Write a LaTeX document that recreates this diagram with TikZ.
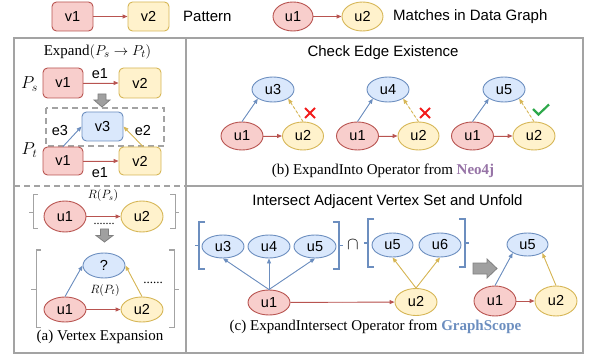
\documentclass[tikz,border=0pt]{standalone}
\usepackage{fontspec}
\setmainfont{Liberation Serif}
\newfontfamily\hel{Liberation Sans}
\usetikzlibrary{shapes.geometric,arrows.meta}
\definecolor{rf}{HTML}{F8CECC}\definecolor{rd}{HTML}{B85450}
\definecolor{yf}{HTML}{FFF2CC}\definecolor{yd}{HTML}{D6B656}
\definecolor{bf}{HTML}{DAE8FC}\definecolor{bd}{HTML}{6C8EBF}
\definecolor{frc}{HTML}{A3A3A3}
\definecolor{garf}{HTML}{A0A0A0}\definecolor{gard}{HTML}{808080}
\definecolor{neo}{HTML}{9673A6}\definecolor{gsc}{HTML}{6C8EBF}
\definecolor{okg}{HTML}{2DA84A}\definecolor{xr}{HTML}{F21B1B}
\tikzset{
 nbase/.style={font=\hel\fontsize{14.5}{15}\selectfont, line width=0.9pt, inner sep=0pt},
 rbox/.style={nbase, draw=rd, fill=rf, rounded corners=4.5pt, minimum width=40pt, minimum height=29pt},
 ybox/.style={rbox, draw=yd, fill=yf},
 bbox/.style={rbox, draw=bd, fill=bf},
 rell/.style={nbase, ellipse, draw=rd, fill=rf, minimum width=42pt, minimum height=28pt},
 yell/.style={rell, draw=yd, fill=yf},
 bell/.style={rell, draw=bd, fill=bf},
 arrtip/.style={-{Triangle[length=5pt,width=4pt]}},
 ra/.style={arrtip, draw=rd, fill=rd, line width=0.9pt},
 ya/.style={arrtip, draw=yd, fill=yd, line width=0.9pt},
 ba/.style={arrtip, draw=bd, fill=bd, line width=0.9pt},
 yda/.style={ya, dash pattern=on 3pt off 2pt},
 framel/.style={draw=frc, line width=1.4pt},
 longdash/.style={dash pattern=on 6pt off 4pt},
 lbl/.style={font=\hel\fontsize{15}{15}\selectfont, inner sep=0pt},
 elbl/.style={font=\hel\fontsize{14.5}{15}\selectfont, inner sep=0pt},
 captxt/.style={font=\fontsize{15}{15}\selectfont, inner sep=0pt},
 garrow/.style={fill=garf, draw=gard, line width=0.8pt},
 brk/.style={draw=frc, line width=1pt},
 bbrk/.style={draw=bd, line width=1.5pt},
 dotsty/.style={font=\fontsize{12}{12}\selectfont, inner sep=0pt},
}
\begin{document}
\begin{tikzpicture}[x=1pt,y=-1pt]
\useasboundingbox (0,0) rectangle (589,358);
% legend
\node[rbox,minimum width=41pt] (lv1) at (72.5,16.5) {v1};
\node[ybox,minimum width=41pt] (lv2) at (148.5,16.5) {v2};
\node[lbl,anchor=west] (lp) at (183,16.5) {Pattern};
\node[rell,minimum width=40pt,minimum height=29pt] (lu1) at (293,16.5) {u1};
\node[yell,minimum width=41pt,minimum height=29pt] (lu2) at (362.5,16.5) {u2};
\node[lbl,anchor=west] (lm) at (393,16.5) {Matches in Data Graph};
\draw[ra] (lv1) -- (lv2);
\draw[ra] (lu1) -- (lu2);
% frames
\draw[framel] (14,38) rectangle (583,353);
\draw[framel] (186,38) -- (186,353);
\draw[framel] (186,186) -- (583,186);
\draw[framel,longdash] (14,186) -- (186,186);
% panel a top
\node[captxt] (ex) at (97.5,52) {Expand$(P_s \rightarrow P_t)$};
\node[font=\fontsize{17}{17}\selectfont,inner sep=0pt] (ps) at (29.5,84) {$P_s$};
\node[rbox,minimum height=30pt] (av1) at (63,83) {v1};
\node[ybox,minimum width=42pt,minimum height=30pt] (av2) at (140,83) {v2};
\draw[ra] (av1) -- (av2);
\node[elbl] (ae1) at (100,74) {e1};
\draw[garrow] (98,94) -- (106,94) -- (106,100) -- (110,100) -- (102,107) -- (94,100) -- (98,100) -- cycle;
\draw[framel,longdash] (46,108) rectangle (164,146);
\node[bbox,minimum width=41pt] (av3) at (102.5,126.5) {v3};
\node[elbl] (ae3) at (60,131) {e3};
\node[elbl] (ae2) at (143,131) {e2};
\node[font=\fontsize{17}{17}\selectfont,inner sep=0pt] (pt) at (29.5,150) {$P_t$};
\node[rbox,minimum height=28pt] (bv1) at (63,161) {v1};
\node[ybox,minimum width=42pt,minimum height=28pt] (bv2) at (140,161) {v2};
\draw[ra] (bv1) -- (bv2);
\node[elbl] (be1) at (100,173) {e1};
\draw[ba] (bv1.north) -- (av3.west);
\draw[ya] ([xshift=3pt]bv2.north) -- (av3.east);
% panel a bottom
\node[font=\fontsize{12}{12}\selectfont,inner sep=0pt] (rps) at (103,196) {$R(P_s)$};
\draw[brk] (38,195) -- (33,195) -- (33,229) -- (38,229);
\draw[brk] (33,213) -- (29,213);
\draw[brk] (170,195) -- (175,195) -- (175,229) -- (170,229);
\draw[brk] (175,213) -- (179,213);
\node[rell,minimum height=31pt] (tu1) at (65,216.5) {u1};
\node[yell,minimum height=31pt] (tu2) at (142,216.5) {u2};
\draw[ra] (tu1) -- (tu2);
\node[dotsty] (d1) at (104,223.5) {.......};
\draw[garrow] (100.5,229) -- (108.5,229) -- (108.5,235.5) -- (113,235.5) -- (104.5,242) -- (96,235.5) -- (100.5,235.5) -- cycle;
\draw[brk] (41,250) -- (36,250) -- (36,327) -- (41,327);
\draw[brk] (36,289) -- (31,289);
\draw[brk] (169,250) -- (174,250) -- (174,327) -- (169,327);
\draw[brk] (174,289) -- (179,289);
\node[bell,minimum height=25pt] (q) at (104,265.5) {?};
\node[font=\fontsize{12}{12}\selectfont,inner sep=0pt] (rpt) at (105,290) {$R(P_t)$};
\node[dotsty,font=\fontsize{13}{13}\selectfont] (d2) at (153,283) {......};
\node[rell,minimum height=25pt] (bu1) at (65,309.5) {u1};
\node[yell,minimum height=25pt] (bu2) at (142,309.5) {u2};
\draw[ra] (bu1) -- (bu2);
\draw[ba] (bu1.north) -- (q.west);
\draw[ya] (bu2.north) -- (q.east);
\node[captxt] (capa) at (100,337) {(a) Vertex Expansion};
% panel b
\node[lbl] (tb) at (383,53) {Check Edge Existence};
\node[bell,minimum height=25pt] (g1u3) at (273,89.5) {u3};
\node[rell] (g1u1) at (242,136) {u1};
\node[yell,minimum width=41pt] (g1u2) at (303,136) {u2};
\draw[ra] (g1u1) -- (g1u2);
\draw[ba] (g1u1.north) -- (g1u3.south west);
\draw[yda] (g1u2.north) -- (g1u3.south east);
\draw[xr,line width=2pt] (305,108) -- (315,118) (305,118) -- (315,108);
\node[bell,minimum height=25pt] (g2u4) at (388,89.5) {u4};
\node[rell] (g2u1) at (357.5,136) {u1};
\node[yell,minimum width=41pt] (g2u2) at (418.5,136) {u2};
\draw[ra] (g2u1) -- (g2u2);
\draw[ba] (g2u1.north) -- (g2u4.south west);
\draw[yda] (g2u2.north) -- (g2u4.south east);
\draw[xr,line width=2pt] (420,108) -- (430,118) (420,118) -- (430,108);
\node[bell,minimum height=25pt] (g3u5) at (504,89.5) {u5};
\node[rell] (g3u1) at (472.5,136) {u1};
\node[yell] (g3u2) at (534,136) {u2};
\draw[ra] (g3u1) -- (g3u2);
\draw[ba] (g3u1.north) -- (g3u5.south west);
\draw[yda] (g3u2.north) -- (g3u5.south east);
\draw[okg,line width=2.2pt] (533,109) -- (538.5,114.5) -- (549,104.5);
\node[captxt] (capb) at (383,171) {(b) ExpandInto Operator from \textbf{\color{neo}Neo4j}};
% panel c
\node[lbl] (tc) at (387.5,202) {Intersect Adjacent Vertex Set and Unfold};
\draw[bbrk] (205,222) -- (199,222) -- (199,269) -- (205,269);
\draw[bbrk] (199,245.5) -- (195,245.5);
\draw[bbrk] (333,222) -- (339,222) -- (339,269) -- (333,269);
\draw[bbrk] (339,245.5) -- (343,245.5);
\node[font=\fontsize{17}{17}\selectfont,inner sep=0pt] (cap1) at (353,245) {$\cap$};
\draw[bbrk] (374,219) -- (368,219) -- (368,267) -- (374,267);
\draw[bbrk] (368,243) -- (364,243);
\draw[bbrk] (459,219) -- (465,219) -- (465,267) -- (459,267);
\draw[bbrk] (465,243) -- (469,243);
\node[bell,minimum height=23pt] (cu3) at (223,246.5) {u3};
\node[bell,minimum height=23pt] (cu4) at (269,246.5) {u4};
\node[bell,minimum height=23pt] (cu5) at (315,246.5) {u5};
\node[bell,minimum height=24pt,minimum width=41pt] (cu5b) at (392.5,245) {u5};
\node[bell,minimum height=24pt] (cu6) at (440,245) {u6};
\node[rell,minimum height=25pt] (cu1) at (269,302.5) {u1};
\node[yell,minimum height=27pt] (cu2) at (416,302) {u2};
\draw[ra] (cu1) -- (cu2);
\draw[ba] (cu1.north) -- (cu3.south);
\draw[ba] (cu1.north) -- (cu4.south);
\draw[ba] (cu1.north) -- (cu5.south);
\draw[ya] (cu2.north) -- (cu5b.south);
\draw[ya] (cu2.north) -- (cu6.south);
\draw[garrow] (473,263) -- (487,263) -- (487,259) -- (497,268.5) -- (487,278) -- (487,274) -- (473,274) -- cycle;
\node[bell,minimum height=23pt,minimum width=41pt] (du5) at (527.5,244.5) {u5};
\node[rell,minimum height=30pt] (du1) at (495,301) {u1};
\node[yell,minimum height=30pt] (du2) at (556,301) {u2};
\draw[ra] (du1) -- (du2);
\draw[ba] (du1.north) -- (du5.south west);
\draw[ya] (du2.north) -- (du5.south east);
\node[captxt] (capc) at (375.5,327) {(c) ExpandIntersect Operator from \textbf{\color{gsc}GraphScope}};
\end{tikzpicture}
\end{document}
